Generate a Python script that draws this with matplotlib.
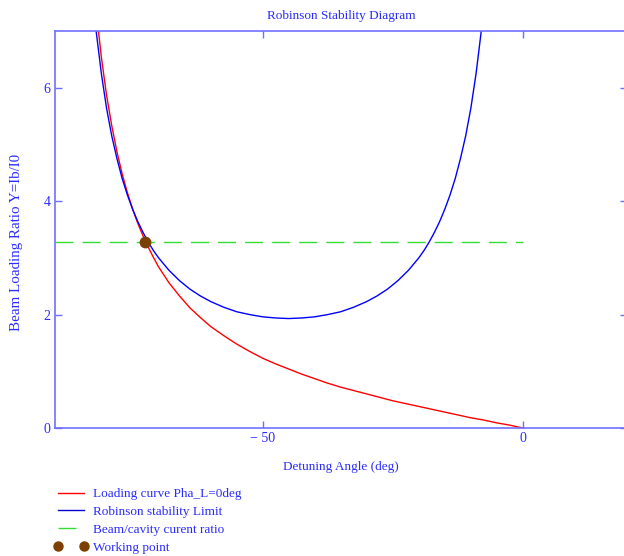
import matplotlib.pyplot as plt
from matplotlib.lines import Line2D

plt.rcParams['font.family'] = ['Liberation Serif', 'DejaVu Serif']

# loading curve, Pha_L = 0 deg
phi_load = [-83, -82, -81, -80, -79, -78, -77, -76, -75, -74, -73, -72, -71,
            -70, -68, -66, -64, -62, -60, -57.5, -55, -52.5, -50, -47.5, -45,
            -42.5, -40, -37.5, -35, -32.5, -30, -27.5, -25, -22.5, -20, -17.5,
            -15, -12.5, -10, -7.5, -5, -2.5, 0]
y_load = [8.43, 7.37, 6.54, 5.87, 5.33, 4.87, 4.48, 4.15, 3.86, 3.61, 3.39,
          3.19, 3.01, 2.84, 2.56, 2.33, 2.12, 1.95, 1.79, 1.63, 1.48, 1.35,
          1.23, 1.13, 1.04, 0.95, 0.87, 0.79, 0.72, 0.66, 0.60, 0.54, 0.48,
          0.43, 0.38, 0.33, 0.28, 0.23, 0.18, 0.14, 0.09, 0.05, 0.0]

# Robinson stability limit
phi_rob = [-84, -83, -82.5, -82, -81, -80, -79, -78, -77, -76, -75, -74, -73,
           -72, -71, -70, -68, -66, -64, -62, -60, -57.5, -55, -52.5, -50,
           -47.5, -45, -42.5, -40, -37.5, -35, -32.5, -30, -28, -26, -24, -22,
           -20, -19, -18, -17, -16, -15, -14, -13, -12, -11, -10, -9, -8,
           -7.5, -7, -6]
y_rob = [9.28, 7.98, 7.46, 7.00, 6.25, 5.64, 5.15, 4.75, 4.40, 4.11, 3.86,
         3.64, 3.45, 3.28, 3.13, 3.00, 2.78, 2.60, 2.45, 2.33, 2.23, 2.13,
         2.05, 2.00, 1.96, 1.94, 1.93, 1.94, 1.96, 2.00, 2.05, 2.13, 2.23,
         2.33, 2.45, 2.60, 2.78, 3.00, 3.13, 3.28, 3.45, 3.64, 3.86, 4.11,
         4.40, 4.75, 5.15, 5.64, 6.25, 7.00, 7.46, 7.98, 9.28]

# beam / cavity current ratio
phi_ratio = [-90, 0]
y_ratio = [3.28, 3.28]

# working point
phi_wp = [-72.6]
y_wp = [3.28]

blue_txt = '#2b2bff'
spine_col = '#6f6fff'

fig = plt.figure(figsize=(6.24, 5.56), dpi=100)
ax = fig.add_axes([54.5 / 624, 128 / 556, (627 - 54.5) / 624, 397 / 556])

ax.plot(phi_load, y_load, color='#ff0000', lw=1.0)
ax.plot(phi_rob, y_rob, color='#0000ff', lw=1.0)
ax.plot(phi_ratio, y_ratio, color='#33dd33', lw=1.0, dashes=(13, 6.5))
ax.plot(phi_wp, y_wp, 'o', color='#7b3f00', ms=7.5, zorder=5)

ax.set_xlim(-90, 20)
ax.set_ylim(0, 7)
ax.set_xticks([-50, 0])
ax.set_xticklabels(['\u2212 50', '0'])
ax.set_yticks([0, 2, 4, 6])

ax.tick_params(direction='in', top=True, right=True, length=5, width=1,
               color=spine_col, labelcolor=blue_txt, labelsize=10, pad=3)
for s in ax.spines.values():
    s.set_color(spine_col)
    s.set_linewidth(1.2)

fig.text(341 / 624, 1 - 16 / 556, 'Robinson Stability Diagram', ha='center',
         va='center', color=blue_txt, fontsize=9.5)
fig.text(341 / 624, 1 - 467 / 556, 'Detuning Angle (deg)', ha='center',
         va='center', color=blue_txt, fontsize=9.5)
fig.text(17 / 624, 1 - 242 / 556, 'Beam Loading Ratio Y=Ib/I0', ha='center',
         va='center', rotation=90, color=blue_txt, fontsize=10.8)

h1 = Line2D([], [], color='#ff0000', lw=1.0)
h2 = Line2D([], [], color='#0000cc', lw=1.0)
h3 = Line2D([], [], color='#33dd33', lw=1.0, dashes=(13, 6.5))
h4 = Line2D([], [], ls='none', marker='o', color='#7b3f00', ms=6.5)
leg = fig.legend([h1, h2, h3, h4],
                 ['Loading curve Pha_L=0deg', 'Robinson stability Limit',
                  'Beam/cavity curent ratio', 'Working point'],
                 loc='upper left', bbox_to_anchor=(54 / 624, 1 - 488 / 556),
                 frameon=False, fontsize=9.5, handlelength=2.55,
                 handletextpad=0.4, labelspacing=0.42, borderpad=0,
                 borderaxespad=0, numpoints=2)
for t in leg.get_texts():
    t.set_color(blue_txt)

fig.savefig('out.png', dpi=100)
